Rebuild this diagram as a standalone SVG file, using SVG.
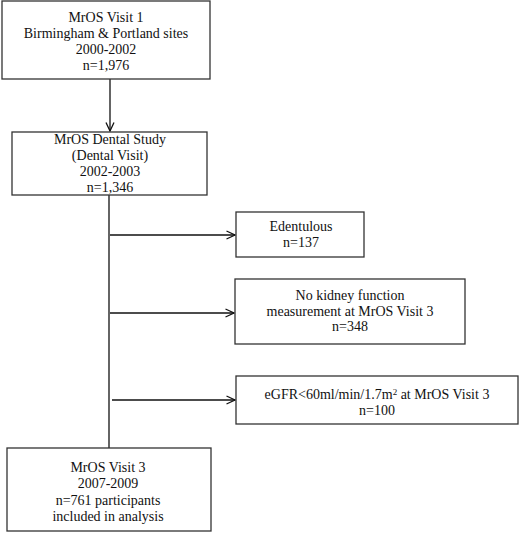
<svg xmlns="http://www.w3.org/2000/svg" width="520" height="533" viewBox="0 0 520 533">
<style>
.box{fill:#fff;stroke:#333;stroke-width:1.3}
text{font-family:"Liberation Serif","Times New Roman",serif;font-size:14px;fill:#111;text-anchor:middle}
.conn{stroke:#111;stroke-width:1.3;fill:none}
</style>
<defs>
<marker id="arr" viewBox="0 0 10 10" refX="9.5" refY="5" markerWidth="10" markerHeight="10" markerUnits="userSpaceOnUse" orient="auto">
<path d="M1,1 L9.5,5 L1,9" fill="none" stroke="#111" stroke-width="1.3"/>
</marker>
</defs>
<rect width="520" height="533" fill="#fff"/>
<g id="connectors">
<line class="conn" x1="110" y1="79" x2="110" y2="131" marker-end="url(#arr)"/>
<line class="conn" x1="109" y1="195" x2="109" y2="448"/>
<line class="conn" x1="110" y1="235" x2="235" y2="235" marker-end="url(#arr)"/>
<line class="conn" x1="110" y1="313" x2="234" y2="313" marker-end="url(#arr)"/>
<line class="conn" x1="112" y1="400" x2="235" y2="400" marker-end="url(#arr)"/>
</g>
<g id="visit1">
<rect class="box" x="2" y="1" width="208" height="78"/>
<text x="106" y="22">MrOS Visit 1</text>
<text x="106" y="38">Birmingham &amp; Portland sites</text>
<text x="106" y="54">2000-2002</text>
<text x="106" y="70">n=1,976</text>
</g>
<g id="dental">
<rect class="box" x="12" y="132" width="195" height="63"/>
<text x="110" y="144">MrOS Dental Study</text>
<text x="110" y="160">(Dental Visit)</text>
<text x="110" y="176">2002-2003</text>
<text x="110" y="192">n=1,346</text>
</g>
<g id="edentulous">
<rect class="box" x="236" y="212" width="128" height="45"/>
<text x="301" y="231">Edentulous</text>
<text x="301" y="247">n=137</text>
</g>
<g id="nokidney">
<rect class="box" x="235" y="279" width="230" height="65"/>
<text x="350" y="300">No kidney function</text>
<text x="350" y="316">measurement at MrOS Visit 3</text>
<text x="350" y="331">n=348</text>
</g>
<g id="egfr">
<rect class="box" x="236" y="376" width="282" height="48"/>
<text x="377" y="399">eGFR&lt;60ml/min/1.7m<tspan font-size="9" dy="-4">2</tspan><tspan dy="4"> at MrOS Visit 3</tspan></text>
<text x="377" y="415">n=100</text>
</g>
<g id="visit3">
<rect class="box" x="7" y="448" width="204" height="83"/>
<text x="108" y="472">MrOS Visit 3</text>
<text x="108" y="488">2007-2009</text>
<text x="108" y="505">n=761 participants</text>
<text x="108" y="521">included in analysis</text>
</g>
</svg>
